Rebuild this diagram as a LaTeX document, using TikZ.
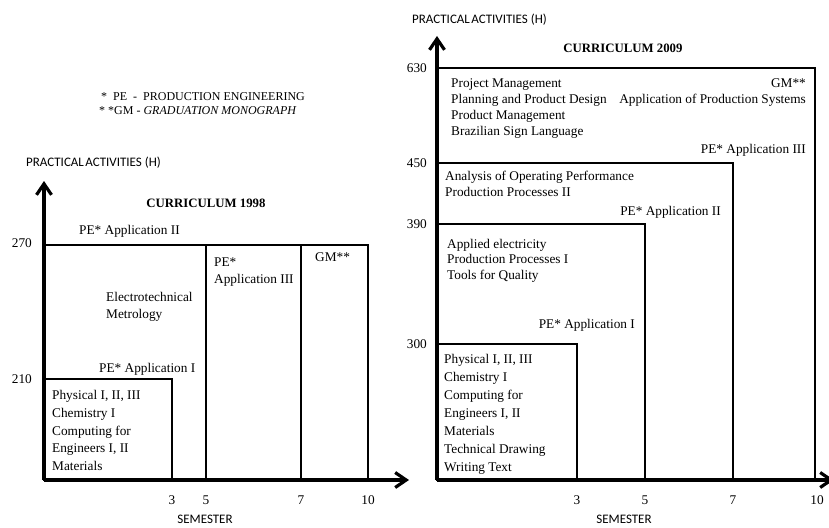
\documentclass[tikz,border=0pt]{standalone}
\usepackage{fontspec}
\setmainfont{Liberation Serif}
\newfontfamily\axisfont{Carlito}
\usetikzlibrary{arrows.meta}
\begin{document}
\begin{tikzpicture}[x=1pt,y=-1pt,
  frame/.style={line width=2.8pt, line join=miter},
  axis/.style={line width=3.2pt, -{Straight Barb[length=11pt,width=15pt,line width=3.2pt]}},
  txt/.style={inner sep=0pt, font=\fontsize{13.3}{17.8}\selectfont},
  blk/.style={txt, align=left, anchor=north west},
  tick/.style={inner sep=0pt, font=\fontsize{13.3}{16}\selectfont},
  axlabel/.style={inner sep=0pt, font=\axisfont\fontsize{13}{15}\selectfont},
  title/.style={inner sep=0pt, font=\bfseries\fontsize{12.8}{15}\selectfont},
  legend/.style={inner sep=0pt, anchor=base west, font=\fontsize{12}{14}\selectfont}]
\useasboundingbox (0,0) rectangle (829,527);

% ---------- legend ----------
\node[legend] (leg1) at (101,100) {*\ \ PE\ \ -\ \ PRODUCTION ENGINEERING};
\node[legend] (leg2) at (99,114) {* *GM - \textit{GRADUATION MONOGRAPH}};

% ---------- curriculum 1998 ----------
\coordinate (o1) at (44,480);
\coordinate (y1) at (44,181);
\coordinate (x1) at (409,480);
\draw[frame] (44,245) rectangle (368,480);
\draw[frame] (206,245) -- (206,480);
\draw[frame] (301,245) -- (301,480);
\draw[frame] (44,379) rectangle (172,480);
\draw[axis] (o1) -- (y1);
\draw[axis] (o1) -- (x1);

\node[axlabel, anchor=west] (ya1) at (26,163) {PRACTICAL\hspace{1.5pt}ACTIVITIES (H)};
\node[axlabel] (xa1) at (205,519) {SEMESTER};
\node[title] (t1) at (206,203) {CURRICULUM 1998};

\node[tick, anchor=base east] (l270) at (32,247.5) {270};
\node[tick, anchor=base east] (l210) at (32,383.5) {210};
\node[tick, anchor=base] (s13) at (172,504.5) {3};
\node[tick, anchor=base] (s15) at (206,504.5) {5};
\node[tick, anchor=base] (s17) at (301,504.5) {7};
\node[tick, anchor=base] (s110) at (368,504.5) {10};

\node[txt, anchor=base west] (pe2a) at (79,234.5) {PE* Application II};
\node[blk, font=\fontsize{13.3}{17}\selectfont] (pe3a) at (214,258) {PE*\\Application III};
\node[txt, anchor=base west] (gma) at (315,261.5) {GM**};
\node[blk, font=\fontsize{13.3}{17}\selectfont] (etm) at (106,292) {Electrotechnical\\Metrology};
\node[txt, anchor=base west] (pe1a) at (99,372.5) {PE* Application I};
\node[blk] (basea) at (52,390) {Physical I, II, III\\Chemistry I\\Computing for\\Engineers I, II\\Materials};

% ---------- curriculum 2009 ----------
\coordinate (o2) at (437,480);
\coordinate (y2) at (437,36);
\coordinate (x2) at (834,480);
\draw[frame] (437,68) rectangle (815,480);
\draw[frame] (437,163) rectangle (733,480);
\draw[frame] (437,224) rectangle (645,480);
\draw[frame] (437,344) rectangle (577,480);
\draw[axis] (o2) -- (y2);
\draw[axis] (o2) -- (x2);

\node[axlabel, anchor=west] (ya2) at (412,20) {PRACTICAL\hspace{1.5pt}ACTIVITIES (H)};
\node[axlabel] (xa2) at (624,519) {SEMESTER};
\node[title] (t2) at (623,48) {CURRICULUM 2009};

\node[tick, anchor=base east] (l630) at (427,72.5) {630};
\node[tick, anchor=base east] (l450) at (427,167.5) {450};
\node[tick, anchor=base east] (l390) at (427,228.5) {390};
\node[tick, anchor=base east] (l300) at (427,348.5) {300};
\node[tick, anchor=base] (s23) at (577,504.5) {3};
\node[tick, anchor=base] (s25) at (645,504.5) {5};
\node[tick, anchor=base] (s27) at (733,504.5) {7};
\node[tick, anchor=base] (s210) at (817,504.5) {10};

\node[blk, font=\fontsize{13.3}{16}\selectfont] (topb) at (451,78) {Project Management\\Planning and Product Design\\Product Management\\Brazilian Sign Language};
\node[txt, anchor=base east] (gmb) at (806,87.5) {GM**};
\node[txt, anchor=base east] (aps) at (806,103.5) {Application of Production Systems};
\node[txt, anchor=base east] (pe3b) at (806,153.5) {PE* Application III};
\node[blk, font=\fontsize{13.3}{16}\selectfont] (anb) at (445,171) {Analysis of Operating Performance\\Production Processes II};
\node[txt, anchor=base east] (pe2b) at (721,215.5) {PE* Application II};
\node[blk, font=\fontsize{13.3}{15.5}\selectfont] (apb) at (447,239) {Applied electricity\\Production Processes I\\Tools for Quality};
\node[txt, anchor=base east] (pe1b) at (635,328.5) {PE* Application I};
\node[blk, font=\fontsize{13.3}{18}\selectfont] (baseb) at (444,354) {Physical I, II, III\\Chemistry I\\Computing for\\Engineers I, II\\Materials\\Technical Drawing\\Writing Text};
\end{tikzpicture}
\end{document}
